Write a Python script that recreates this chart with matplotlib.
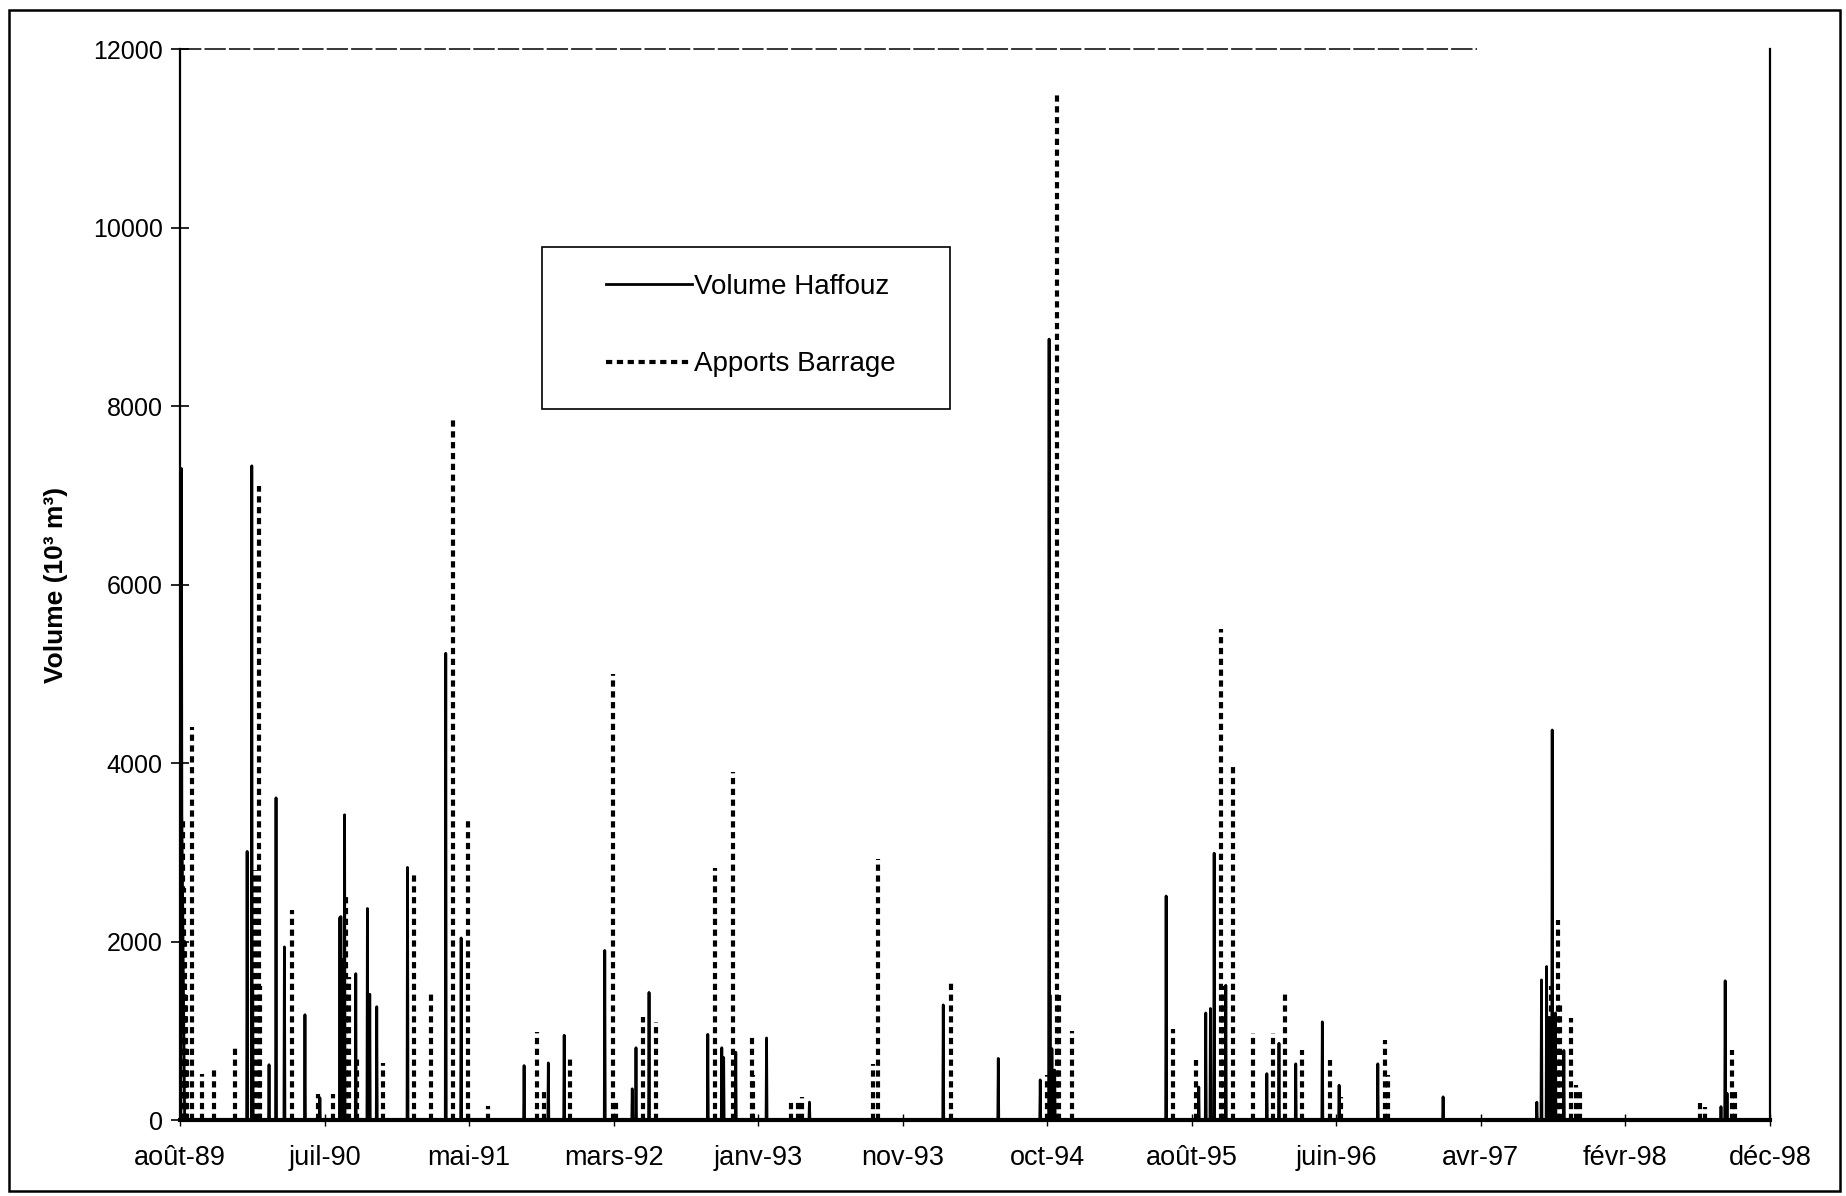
import matplotlib
matplotlib.use("Agg")
import matplotlib.pyplot as plt
from matplotlib.patches import Rectangle
import pandas as pd

plt.rcParams['font.family'] = ['Liberation Sans', 'DejaVu Sans']

# --- Data ---

start_date = "1989-08-29"
end_date = "1998-12-30"

haffouz_dates = [
    "1989-09-01", "1989-09-02", "1989-09-03", "1989-09-04", "1989-09-05", "1989-09-06", "1989-09-07",
    "1990-01-20", "1990-01-30", "1990-02-01", "1990-03-08", "1990-03-23", "1990-04-10", "1990-05-24",
    "1990-06-25", "1990-08-07", "1990-08-09", "1990-08-12", "1990-08-17", "1990-09-10", "1990-10-05",
    "1990-10-10", "1990-10-25", "1990-12-30", "1991-03-22", "1991-04-24", "1991-09-06", "1991-10-28",
    "1991-12-01", "1992-02-26", "1992-04-25", "1992-05-03", "1992-05-31", "1992-10-04", "1992-11-03",
    "1992-11-07", "1992-12-03", "1993-02-07", "1993-05-10", "1994-02-21", "1994-06-19", "1994-09-17",
    "1994-10-06", "1994-10-08", "1994-10-12", "1994-10-18", "1995-06-14", "1995-08-23", "1995-09-07",
    "1995-09-17", "1995-09-25", "1995-10-20", "1996-01-16", "1996-02-11", "1996-03-18", "1996-05-14",
    "1996-06-19", "1996-09-10", "1997-01-28", "1997-08-17", "1997-08-27", "1997-09-07", "1997-09-12",
    "1997-09-19", "1997-09-26", "1997-10-14", "1998-09-16", "1998-09-25", "1998-09-29",
]
haffouz_values = [
    7300, 3430, 2800, 2300, 1700, 1200, 600,
    3010, 7330, 1500, 620, 3610, 1940, 1180,
    250, 2270, 2280, 1800, 3420, 1640, 2370,
    1410, 1270, 2830, 5230, 2040, 610, 640,
    950, 1900, 350, 810, 1430, 960, 810,
    700, 760, 920, 200, 1290, 690, 450,
    8750, 1400, 800, 560, 2510, 370, 1200,
    1250, 2990, 1510, 520, 860, 630, 1100,
    390, 630, 260, 200, 1570, 1720, 1150,
    4370, 1200, 780, 150, 1560, 300,
]

apports_dates = [
    "1989-09-04", "1989-09-06", "1989-09-08", "1989-09-10", "1989-09-12", "1989-09-23", "1989-10-16",
    "1989-11-09", "1989-12-24", "1990-02-05", "1990-02-14", "1990-02-17", "1990-04-26", "1990-06-21",
    "1990-07-23", "1990-08-14", "1990-08-21", "1990-08-26", "1990-09-13", "1990-11-07", "1991-01-13",
    "1991-02-18", "1991-04-06", "1991-05-09", "1991-06-20", "1991-10-03", "1991-10-18", "1991-12-13",
    "1992-03-14", "1992-03-22", "1992-05-17", "1992-06-15", "1992-10-19", "1992-11-26", "1993-01-07",
    "1993-01-10", "1993-03-31", "1993-04-15", "1993-04-25", "1993-09-24", "1993-10-05", "1994-03-09",
    "1994-10-02", "1994-10-23", "1994-10-27", "1994-11-25", "1995-06-28", "1995-08-18", "1995-10-10",
    "1995-10-14", "1995-11-04", "1995-12-18", "1996-01-29", "1996-02-25", "1996-04-01", "1996-05-30",
    "1996-06-23", "1996-09-25", "1996-10-01", "1997-09-16", "1997-10-02", "1997-10-06", "1997-10-29",
    "1997-11-10", "1997-11-18", "1998-08-02", "1998-08-12", "1998-10-10", "1998-10-15",
]
apports_values = [
    3400, 2600, 2000, 1400, 800, 4400, 520,
    570, 820, 2800, 7100, 1500, 2350, 290,
    290, 1800, 2520, 1600, 680, 640, 2760,
    1430, 7850, 3390, 160, 990, 340, 700,
    5000, 235, 1160, 1100, 2820, 3900, 960,
    500, 235, 220, 255, 630, 2930, 1540,
    500, 11500, 1400, 1000, 1020, 670, 5500,
    1500, 4000, 970, 970, 1460, 780, 670,
    260, 900, 500, 1500, 2240, 1300, 1140,
    390, 340, 190, 150, 780, 310,
]

tick_dates = ["1989-08-29", "1990-07-05", "1991-05-11", "1992-03-16", "1993-01-20", "1993-11-26",
              "1994-10-02", "1995-08-08", "1996-06-13", "1997-04-19", "1998-02-23", "1998-12-30"]
tick_labels = ["août-89", "juil-90", "mai-91", "mars-92", "janv-93", "nov-93",
               "oct-94", "août-95", "juin-96", "avr-97", "févr-98", "déc-98"]

# --- Daily series for Haffouz (days without a read value are at zero) ---

days = pd.date_range(start_date, end_date, freq="D")
haffouz = pd.Series(0.0, index=days)
haffouz[pd.to_datetime(haffouz_dates)] = haffouz_values

# --- Plot ---

fig = plt.figure(figsize=(18.46, 11.96), dpi=100)
ax = fig.add_axes([0.0975, 0.0635, 0.8613, 0.8955])

ax.plot(haffouz.index, haffouz.values, color="black", linewidth=2.0, label="Volume Haffouz")
# dashed spikes drawn one segment each, so the dashes stay readable
ax.vlines(pd.to_datetime(apports_dates), 0, apports_values, color="black", linewidth=3.0,
          linestyles=[(0, (1.5, 1.1))], label="Apports Barrage")

ax.set_xlim(pd.Timestamp(start_date), pd.Timestamp(end_date))
ax.set_ylim(0, 12000)
ax.set_yticks(range(0, 12001, 2000))
ax.set_xticks(pd.to_datetime(tick_dates))
ax.set_xticklabels(tick_labels)

ax.tick_params(axis="y", direction="inout", length=13, width=1.2, labelsize=18, pad=6)
ax.tick_params(axis="x", direction="inout", length=8, width=1.0, labelsize=19.5, pad=14)
ax.set_ylabel("Volume (10³ m³)", fontsize=19, fontweight="bold", labelpad=18)

for side in ["left", "right"]:
    ax.spines[side].set_linewidth(1.6)
ax.spines["bottom"].set_linewidth(3.0)
ax.spines["top"].set_visible(False)
ax.axhline(12000, xmin=0, xmax=0.816, color="black", linewidth=1.1,
           linestyle=(0, (14, 2)), clip_on=False)

# legend box
ax.add_patch(Rectangle((0.228, 0.664), 0.256, 0.151, transform=ax.transAxes,
                       facecolor="white", edgecolor="black", linewidth=1.2, zorder=5))
leg = ax.legend(loc="upper left", bbox_to_anchor=(0.268, 0.790), frameon=False,
                fontsize=20, borderpad=0, borderaxespad=0, handlelength=3.1,
                handletextpad=0.08, labelspacing=1.85)
leg.set_zorder(6)

fig.patches.append(Rectangle((0.005, 0.004), 0.9915, 0.9875, transform=fig.transFigure,
                             fill=False, edgecolor="black", linewidth=1.8))

fig.savefig("out.png", dpi=100)
